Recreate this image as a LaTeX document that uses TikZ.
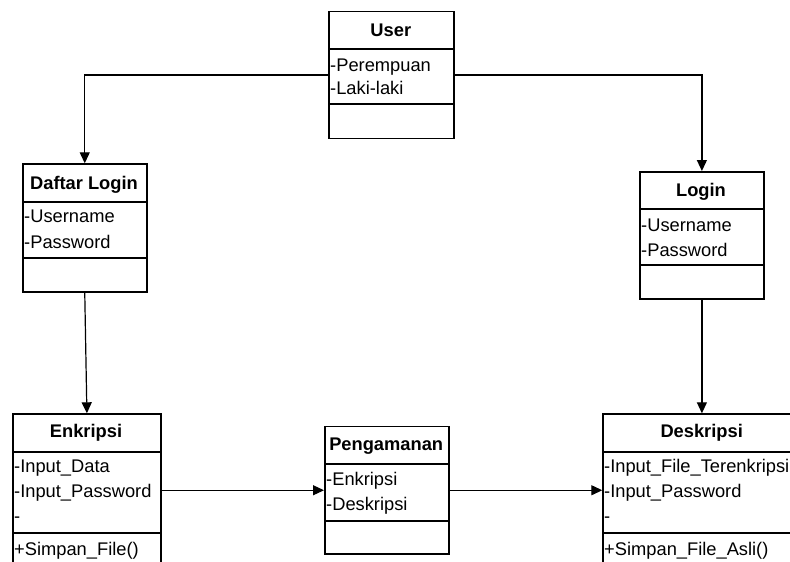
\documentclass[tikz,border=0pt]{standalone}
\usepackage{fontspec}
\setmainfont{Liberation Sans}
\usetikzlibrary{arrows.meta}
\begin{document}
\begin{tikzpicture}[x=1pt,y=-1pt,
  classbox/.style={draw,line width=1.5pt,inner sep=0pt,anchor=north west},
  divider/.style={line width=1.7pt},
  title/.style={font=\fontsize{18.3}{21}\selectfont\bfseries,anchor=base,inner sep=0pt},
  attr/.style={font=\fontsize{18.3}{21}\selectfont,anchor=base west,inner sep=0pt},
  link/.style={line width=1.2pt,-{Triangle[length=11pt,width=10pt]}}]
\useasboundingbox (0,0) rectangle (790,562);
\clip (0,0) rectangle (790,562);

% User
\node[classbox,minimum width=125pt,minimum height=127pt] (user) at (328.3,10.7) {};
\draw[divider] (328.3,49.3) -- (453.3,49.3);
\draw[divider] (328.3,104.3) -- (453.3,104.3);
\node[title] (userT) at (390.8,36) {User};
\node[attr] (userA1) at (330,71.7) {-Perempuan};
\node[attr] (userA2) at (330,94.3) {-Laki-laki};

% Daftar Login
\node[classbox,minimum width=124pt,minimum height=127.7pt] (daftar) at (22,163.3) {};
\draw[divider] (22,201.7) -- (146,201.7);
\draw[divider] (22,257.7) -- (146,257.7);
\node[title] (daftarT) at (84,189) {Daftar Login};
\node[attr] (daftarA1) at (24,222.7) {-Username};
\node[attr] (daftarA2) at (24,248.3) {-Password};

% Login
\node[classbox,minimum width=124.3pt,minimum height=127.3pt] (login) at (639,171) {};
\draw[divider] (639,209.3) -- (763.3,209.3);
\draw[divider] (639,265.3) -- (763.3,265.3);
\node[title] (loginT) at (701,196) {Login};
\node[attr] (loginA1) at (641,231) {-Username};
\node[attr] (loginA2) at (641,256) {-Password};

% Enkripsi
\node[classbox,minimum width=147.7pt,minimum height=162pt] (enkripsi) at (12.3,413.3) {};
\draw[divider] (12.3,451.7) -- (160,451.7);
\draw[divider] (12.3,533.3) -- (160,533.3);
\node[title] (enkripsiT) at (86,437.7) {Enkripsi};
\node[attr] (enkripsiA1) at (14,472.7) {-Input\_Data};
\node[attr] (enkripsiA2) at (14,497.7) {-Input\_Password};
\node[attr] (enkripsiA3) at (14,522.7) {-};
\node[attr] (enkripsiO1) at (14,555) {+Simpan\_File()};

% Pengamanan
\node[classbox,minimum width=124.3pt,minimum height=127.6pt] (pengamanan) at (324,425.7) {};
\draw[divider] (324,464.3) -- (448.3,464.3);
\draw[divider] (324,521) -- (448.3,521);
\node[title] (pengamananT) at (386.2,450) {Pengamanan};
\node[attr] (pengamananA1) at (326,485) {-Enkripsi};
\node[attr] (pengamananA2) at (326,510) {-Deskripsi};

% Deskripsi
\node[classbox,minimum width=198.7pt,minimum height=162pt] (deskripsi) at (602.3,413.3) {};
\draw[divider] (602.3,451.7) -- (801,451.7);
\draw[divider] (602.3,532.7) -- (801,532.7);
\node[title] (deskripsiT) at (701.7,437.7) {Deskripsi};
\node[attr] (deskripsiA1) at (604,472.7) {-Input\_File\_Terenkripsi};
\node[attr] (deskripsiA2) at (604,497.7) {-Input\_Password};
\node[attr] (deskripsiA3) at (604,522.7) {-};
\node[attr] (deskripsiO1) at (604,555) {+Simpan\_File\_Asli()};

% Connectors
\draw[link] (user.west) -| (daftar.north);
\draw[link] (user.east) -| (login.north);
\draw[link] (daftar.south) -- (enkripsi.north);
\draw[link] (login.south) -- (login.south |- deskripsi.north);
\draw[link] (enkripsi.east |- pengamanan.west) -- (pengamanan.west);
\draw[link] (pengamanan.east) -- (deskripsi.west |- pengamanan.east);
\end{tikzpicture}
\end{document}
